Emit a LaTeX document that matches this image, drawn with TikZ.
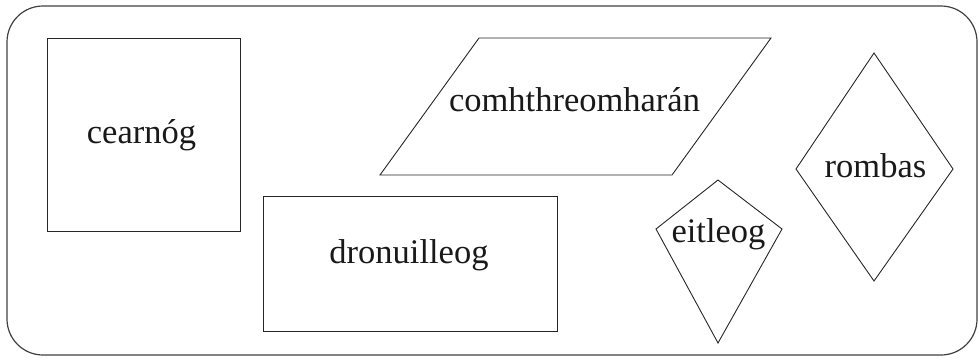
\documentclass[tikz,border=0pt]{standalone}
\usepackage{fontspec}
\setmainfont{Liberation Serif}
\begin{document}
\begin{tikzpicture}[x=1pt,y=-1pt,
  shapeline/.style={draw=black!85,line width=0.9pt},
  framebox/.style={draw=black!75,line width=1.2pt,rounded corners=36pt},
  lbl/.style={inner sep=0pt,anchor=base,font=\fontsize{34.5}{40}\selectfont,text=black!90}]
\useasboundingbox (0,0) rectangle (979,362);
\draw[framebox] (7,6) rectangle (977,355);
% square
\node[shapeline,inner sep=0pt,minimum width=193pt,minimum height=193pt] (sq) at (143.5,134.5) {};
\node[lbl] (tsq) at (141.5,143) {cearnóg};
% rectangle
\node[shapeline,inner sep=0pt,minimum width=294pt,minimum height=135pt] (rect) at (410,263.5) {};
\node[lbl] (trect) at (409,263) {dronuilleog};
% parallelogram
\coordinate (p1) at (479,38);
\coordinate (p2) at (771,38);
\coordinate (p3) at (672,175);
\coordinate (p4) at (380,175);
\draw[shapeline] (p1) -- (p2) -- (p3) -- (p4) -- cycle;
\node[lbl] (tpar) at (574.5,111) {comhthreomharán};
% rhombus
\coordinate (r1) at (874,53);
\coordinate (r2) at (953,169);
\coordinate (r3) at (874,281);
\coordinate (r4) at (796,169);
\draw[shapeline] (r1) -- (r2) -- (r3) -- (r4) -- cycle;
\node[lbl] (trom) at (875.5,177) {rombas};
% kite
\coordinate (k1) at (718,180);
\coordinate (k2) at (782,229);
\coordinate (k3) at (718,343);
\coordinate (k4) at (656,229);
\draw[shapeline] (k1) -- (k2) -- (k3) -- (k4) -- cycle;
\node[lbl] (tkite) at (718.5,242) {eitleog};
\end{tikzpicture}
\end{document}
